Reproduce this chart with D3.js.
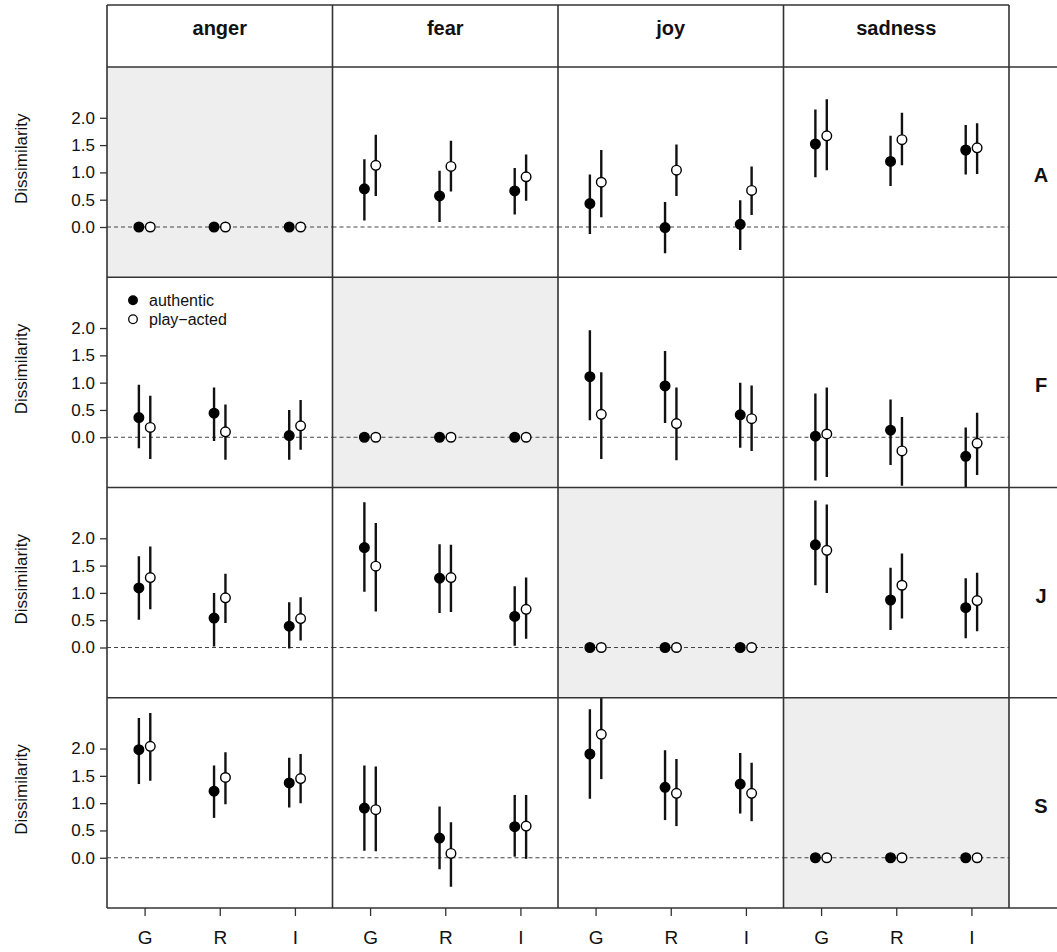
<!DOCTYPE html>
<html><head><meta charset="utf-8">
<script src="https://cdn.jsdelivr.net/npm/d3@7"></script>
<style>body{margin:0;background:#fff;} svg{display:block;}</style>
</head><body>
<script>
// ---- DATA ----
const emotions = ["anger", "fear", "joy", "sadness"];
const rowLabels = ["A", "F", "J", "S"];
const methods = ["G", "R", "I"];
const yTicks = [0, 0.5, 1.0, 1.5, 2.0];
const seriesNames = ["authentic", "play\u2212acted"];

// [row][col][method]
const authMean = [
  [[0,0,0],[0.70,0.57,0.66],[0.43,-0.01,0.05],[1.52,1.20,1.41]],
  [[0.36,0.44,0.03],[0,0,0],[1.11,0.94,0.41],[0.02,0.13,-0.35]],
  [[1.09,0.54,0.39],[1.83,1.27,0.57],[0,0,0],[1.88,0.87,0.73]],
  [[1.98,1.22,1.37],[0.91,0.36,0.57],[1.90,1.29,1.35],[0,0,0]]
];
const authLo = [
  [[0,0,0],[0.12,0.09,0.23],[-0.13,-0.48,-0.42],[0.91,0.75,0.96]],
  [[-0.20,-0.07,-0.41],[0,0,0],[0.31,0.26,-0.19],[-0.79,-0.51,-1.05]],
  [[0.51,0.02,-0.02],[1.02,0.63,0.03],[0,0,0],[1.14,0.32,0.17]],
  [[1.35,0.73,0.92],[0.13,-0.21,0.02],[1.08,0.69,0.81],[0,0,0]]
];
const authHi = [
  [[0,0,0],[1.24,1.03,1.08],[0.96,0.46,0.49],[2.15,1.67,1.87]],
  [[0.96,0.91,0.50],[0,0,0],[1.96,1.58,1.00],[0.80,0.69,0.18]],
  [[1.67,1.00,0.83],[2.66,1.89,1.12],[0,0,0],[2.69,1.46,1.27]],
  [[2.56,1.69,1.83],[1.69,0.94,1.15],[2.72,1.97,1.92],[0,0,0]]
];
const playMean = [
  [[0,0,0],[1.13,1.11,0.92],[0.82,1.04,0.67],[1.67,1.60,1.45]],
  [[0.18,0.10,0.21],[0,0,0],[0.42,0.25,0.34],[0.06,-0.25,-0.11]],
  [[1.28,0.91,0.53],[1.49,1.28,0.70],[0,0,0],[1.78,1.14,0.86]],
  [[2.04,1.47,1.45],[0.88,0.08,0.58],[2.26,1.18,1.18],[0,0,0]]
];
const playLo = [
  [[0,0,0],[0.57,0.65,0.48],[0.18,0.57,0.22],[1.04,1.13,0.97]],
  [[-0.40,-0.41,-0.23],[0,0,0],[-0.40,-0.42,-0.25],[-0.73,-0.89,-0.69]],
  [[0.70,0.45,0.13],[0.66,0.65,0.16],[0,0,0],[1.00,0.53,0.30]],
  [[1.41,0.98,1.00],[0.12,-0.53,-0.02],[1.44,0.58,0.67],[0,0,0]]
];
const playHi = [
  [[0,0,0],[1.69,1.58,1.33],[1.41,1.51,1.11],[2.34,2.09,1.90]],
  [[0.76,0.60,0.68],[0,0,0],[1.19,0.91,0.95],[0.91,0.37,0.45]],
  [[1.85,1.35,0.92],[2.28,1.88,1.28],[0,0,0],[2.62,1.72,1.37]],
  [[2.65,1.93,1.90],[1.67,0.65,1.15],[3.05,1.81,1.74],[0,0,0]]
];

// ---- LAYOUT ----
const W = 1057, H = 952;
const mLeft = 107, mRight = 1009, mTop = 5, headerBottom = 67, mBottom = 908, stripRight = 1057;
const colW = (mRight - mLeft) / 4;
const rowH = (mBottom - headerBottom) / 4;
const frame = "#333";
const fontFam = "'Liberation Sans', Arial, Helvetica, sans-serif";

const svg = d3.select("body").append("svg").attr("width", W).attr("height", H)
  .style("font-family", fontFam);

const colX = d3.scaleBand().domain(emotions).range([mLeft, mRight]);
const rowY = d3.scaleBand().domain(rowLabels).range([headerBottom, mBottom]);
const xIn = d3.scalePoint().domain(methods).range([0, colW]).padding(0.5);
const y = d3.scaleLinear().domain([-0.92, 2.93]).range([rowH, 0]);
const offset = 5.7;

const defs = svg.append("defs");
defs.append("clipPath").attr("id", "pclip").append("rect")
  .attr("x", 0).attr("y", 0).attr("width", colW).attr("height", rowH);

rowLabels.forEach((rl, ri) => {
  emotions.forEach((em, ci) => {
    const g = svg.append("g").attr("transform", `translate(${colX(em)},${rowY(rl)})`);
    if (ri === ci) {
      g.append("rect").attr("width", colW).attr("height", rowH).attr("fill", "#eeeeee");
    }
    const inner = g.append("g").attr("clip-path", "url(#pclip)");
    inner.append("line").attr("x1", 0).attr("x2", colW).attr("y1", y(0)).attr("y2", y(0))
      .attr("stroke", "#444").attr("stroke-width", 1).attr("stroke-dasharray", "4,3");
    const pts = [];
    methods.forEach((m, mi) => {
      pts.push({x: xIn(m) - offset, mean: authMean[ri][ci][mi], lo: authLo[ri][ci][mi], hi: authHi[ri][ci][mi], fill: "#000"});
      pts.push({x: xIn(m) + offset, mean: playMean[ri][ci][mi], lo: playLo[ri][ci][mi], hi: playHi[ri][ci][mi], fill: "#fff"});
    });
    inner.selectAll("line.err").data(pts.filter(d => d.hi > d.lo)).join("line").attr("class", "err")
      .attr("x1", d => d.x).attr("x2", d => d.x)
      .attr("y1", d => y(d.lo)).attr("y2", d => y(d.hi))
      .attr("stroke", "#111").attr("stroke-width", 2.4);
    inner.selectAll("circle").data(pts).join("circle")
      .attr("cx", d => d.x).attr("cy", d => y(d.mean)).attr("r", 4.8)
      .attr("fill", d => d.fill).attr("stroke", "#000").attr("stroke-width", 1.4);

    if (ci === 0) {
      const ax = g.append("g").call(d3.axisLeft(y).tickValues(yTicks).tickFormat(d3.format(".1f")).tickSize(7).tickPadding(5));
      ax.select(".domain").remove();
      ax.selectAll("line").attr("stroke", frame).attr("stroke-width", 1.3);
      ax.selectAll("text").attr("font-size", 17).attr("fill", "#111").attr("font-family", fontFam);
      g.append("text").attr("transform", `translate(-80,${y(1.25)}) rotate(-90)`)
        .attr("text-anchor", "middle").attr("font-size", 17).attr("fill", "#111").text("Dissimilarity");
    }
    if (ri === 3) {
      const ax = g.append("g").attr("transform", `translate(0,${rowH})`)
        .call(d3.axisBottom(xIn).tickSize(8).tickPadding(15));
      ax.select(".domain").remove();
      ax.selectAll("line").attr("stroke", frame).attr("stroke-width", 1.3);
      ax.selectAll("text").attr("font-size", 19).attr("fill", "#111").attr("font-family", fontFam);
    }
    if (ri === 1 && ci === 0) {
      const lg = g.append("g").attr("transform", "translate(26,23)");
      seriesNames.forEach((s, i) => {
        lg.append("circle").attr("cx", 0).attr("cy", i * 19).attr("r", 4.3)
          .attr("fill", i === 0 ? "#000" : "#fff").attr("stroke", "#000").attr("stroke-width", 1.3);
        lg.append("text").attr("x", 16).attr("y", i * 19).attr("dy", "0.35em")
          .attr("font-size", 16).attr("fill", "#111").text(s);
      });
    }
  });
});

const lines = svg.append("g").attr("stroke", frame).attr("stroke-width", 1.6).attr("fill", "none");
lines.append("line").attr("x1", mLeft).attr("x2", mRight).attr("y1", mTop).attr("y2", mTop);
[headerBottom, ...rowLabels.map(r => rowY(r) + rowH)].forEach(yy => {
  lines.append("line").attr("x1", mLeft).attr("x2", stripRight).attr("y1", yy).attr("y2", yy);
});
[mLeft, ...emotions.map(e => colX(e) + colW)].forEach(xx => {
  lines.append("line").attr("x1", xx).attr("x2", xx).attr("y1", mTop).attr("y2", mBottom);
});

svg.selectAll("text.hdr").data(emotions).join("text").attr("class", "hdr")
  .attr("x", d => colX(d) + colW / 2).attr("y", 28)
  .attr("dy", "0.35em").attr("text-anchor", "middle")
  .attr("font-size", 20).attr("font-weight", "bold").attr("fill", "#111").text(d => d);
svg.selectAll("text.rlab").data(rowLabels).join("text").attr("class", "rlab")
  .attr("x", (mRight + stripRight) / 2 + 8).attr("y", d => rowY(d) + rowH / 2 + 3)
  .attr("dy", "0.35em").attr("text-anchor", "middle")
  .attr("font-size", 20).attr("font-weight", "bold").attr("fill", "#111").text(d => d);
</script>
</body></html>
